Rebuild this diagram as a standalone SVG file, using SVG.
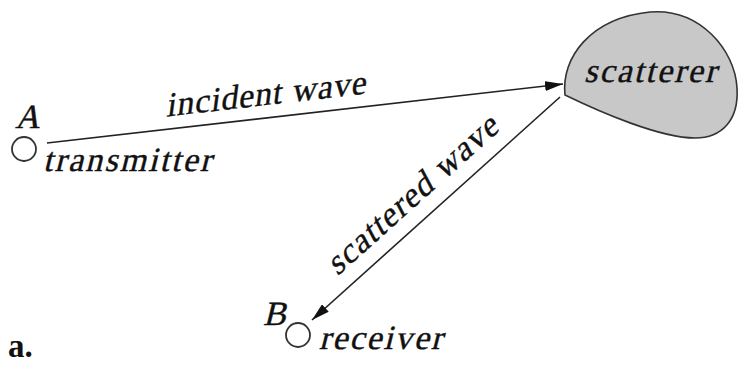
<svg xmlns="http://www.w3.org/2000/svg" width="740" height="365" viewBox="0 0 740 365">
  <style>
    .lbl { font-family: 'Liberation Serif', 'Times New Roman', serif; font-size: 34px; fill: #111; stroke: #111; stroke-width: 0.4; }
    .bold { font-family: 'Liberation Serif', 'Times New Roman', serif; font-weight: bold; font-size: 33px; fill: #111; }
    .node { fill: #fff; stroke: #333; stroke-width: 1.8; }
    .edge { stroke: #222; stroke-width: 1.6; fill: none; }
  </style>
  <defs>
    <marker id="arrow" markerUnits="userSpaceOnUse" markerWidth="18" markerHeight="10" refX="18" refY="5" orient="auto">
      <path d="M0,0 L18,5 L0,10 Z" fill="#111"/>
    </marker>
  </defs>
  <rect width="740" height="365" fill="#fff"/>

  <g id="scatterer">
    <path d="M565,95 C561,58 590,18 650,12 C700,8 735,50 737,88 C739,120 722,138 695,138 C660,138 600,112 565,95 Z" fill="#c8c8c8" stroke="#333" stroke-width="1.6"/>
    <text class="lbl" transform="translate(584,82) skewX(-14)" textLength="132" lengthAdjust="spacing">scatterer</text>
  </g>

  <g id="transmitter">
    <circle class="node" cx="24" cy="149" r="12"/>
    <text class="lbl" transform="translate(15,128) skewX(-14)">A</text>
    <text class="lbl" transform="translate(43,171) skewX(-14)" textLength="168" lengthAdjust="spacing">transmitter</text>
  </g>

  <g id="receiver">
    <circle class="node" cx="298" cy="335" r="12"/>
    <text class="lbl" transform="translate(263,325) skewX(-14)">B</text>
    <text class="lbl" transform="translate(319,349) skewX(-14)" textLength="123" lengthAdjust="spacing">receiver</text>
  </g>

  <g id="connectors">
    <line class="edge" x1="47" y1="143" x2="563" y2="84" marker-end="url(#arrow)"/>
    <text class="lbl" text-anchor="middle" transform="translate(266,105) rotate(-6.52) skewX(-14)" textLength="201" lengthAdjust="spacing">incident wave</text>
    <line class="edge" x1="560" y1="97" x2="312" y2="320" marker-end="url(#arrow)"/>
    <text class="lbl" text-anchor="middle" transform="translate(419,203) rotate(-41.96) skewX(-14)" textLength="219" lengthAdjust="spacing">scattered wave</text>
  </g>

  <text class="bold" x="8" y="357">a.</text>
</svg>
